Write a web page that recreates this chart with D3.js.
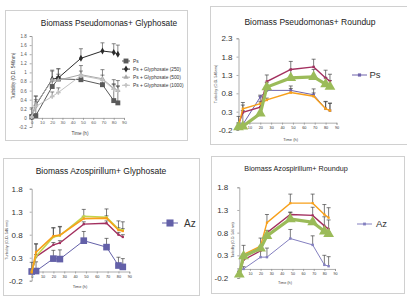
<!DOCTYPE html>
<html>
<head>
<meta charset="utf-8">
<script src="https://cdn.jsdelivr.net/npm/d3@7"></script>
<style>
  html, body { margin: 0; padding: 0; background: #fff; }
  svg { display: block; font-family: "Liberation Sans", Arial, sans-serif; }
</style>
</head>
<body>
<svg id="chart" width="407" height="297"></svg>
<script>
// Messzeitpunkte (h), für alle vier Diagramme gleich
const timeH = [0, 4, 20, 26, 48, 69, 80, 84];
const xTicks = [0, 10, 20, 30, 40, 50, 60, 70, 80, 90];

// Oben links: Pseudomonas + Glyphosat
const p1Ps      = [0.02, 0.05, 0.69, 0.86, 0.84, 0.73, 0.38, 0.33];
const p1G250    = [0.02, 0.28, 0.85, 0.88, 1.31, 1.47, 1.44, 1.40];
const p1G500    = [0.02, 0.30, 0.83, 0.83, 0.95, 0.86, 0.65, 0.60];
const p1G1000   = [0.02, 0.25, 0.47, 0.56, 0.93, 0.84, 0.63, 0.60];
const p1PsErr    = [0.20, 0.43, 0.12, 0.10, 0.08, 0.10, 0.46, 0.49];
const p1G250Err  = [0.05, 0.20, 0.20, 0.20, 0.21, 0.18, 0.19, 0.20];
const p1G500Err  = [0.05, 0.10, 0.20, 0.25, 0.20, 0.20, 0.10, 0.10];
const p1G1000Err = [0.05, 0.10, 0.10, 0.10, 0.10, 0.10, 0.10, 0.10];
const p1Names = ["Ps", "Ps + Glyphosate (250)", "Ps + Glyphosate (500)", "Ps + Glyphosate (1000)"];
const p1YTicks = [-0.2, 0, 0.2, 0.4, 0.6, 0.8, 1, 1.2, 1.4, 1.6, 1.8];

// Oben rechts: Pseudomonas + Roundup
const p2Ps      = [-0.08, -0.05, 0.70, 0.88, 0.88, 0.76, 0.38, 0.33];
const p2Red     = [-0.05, 0.28, 0.42, 1.12, 1.45, 1.52, 1.22, 1.13];
const p2Orange  = [-0.08, 0.38, 0.52, 0.62, 0.82, 0.72, 0.38, 0.33];
const p2Green   = [-0.12, -0.10, 0.25, 0.97, 1.22, 1.25, 1.05, 0.98];
const p2PsErr     = [0.25, 0.60, 0.05, 0.05, 0.05, 0.05, 0.20, 0.20];
const p2RedErr    = [0.05, 0.05, 0.30, 0.18, 0.22, 0.21, 0.21, 0.19];
const p2OrangeErr = [0.05, 0.10, 0.05, 0.05, 0.18, 0.20, 0.19, 0.20];
const p2GreenErr  = [0.05, 0.05, 0.05, 0.13, 0.23, 0.20, 0.17, 0.17];
const p2YTicks = [-0.2, 0.3, 0.8, 1.3, 1.8, 2.3];

// Unten links: Azospirillum + Glyphosat
const p3Az      = [0.00, 0.01, 0.28, 0.27, 0.67, 0.53, 0.13, 0.10];
const p3Red     = [0.00, 0.32, 0.58, 0.62, 1.03, 1.05, 0.80, 0.75];
const p3Lime    = [0.00, 0.33, 0.75, 0.78, 1.20, 1.18, 0.92, 0.90];
const p3Orange  = [-0.02, 0.42, 0.77, 0.79, 1.15, 1.16, 0.90, 0.88];
const p3AzErr     = [0.20, 0.20, 0.18, 0.20, 0.20, 0.19, 0.18, 0.18];
const p3RedErr    = [0.05, 0.05, 0.05, 0.05, 0.05, 0.05, 0.05, 0.05];
const p3LimeErr   = [0.05, 0.27, 0.20, 0.20, 0.15, 0.18, 0.18, 0.18];
const p3OrangeErr = [0.05, 0.18, 0.18, 0.18, 0.05, 0.05, 0.05, 0.05];

// Unten rechts: Azospirillum + Roundup
const p4Az      = [-0.05, 0.00, 0.26, 0.26, 0.67, 0.53, 0.09, 0.06];
const p4Red     = [-0.10, 0.20, 0.40, 0.80, 1.20, 1.18, 0.95, 0.88];
const p4Orange  = [-0.10, 0.32, 0.50, 1.02, 1.45, 1.45, 1.20, 1.13];
const p4Green   = [-0.12, 0.28, 0.45, 0.73, 1.10, 1.03, 0.83, 0.77];
const p4AzErr     = [0.05, 0.05, 0.20, 0.20, 0.20, 0.20, 0.21, 0.21];
const p4RedErr    = [0.05, 0.10, 0.05, 0.05, 0.05, 0.18, 0.20, 0.20];
const p4OrangeErr = [0.05, 0.20, 0.18, 0.18, 0.20, 0.20, 0.22, 0.22];
const p4GreenErr  = [0.05, 0.05, 0.05, 0.05, 0.15, 0.05, 0.05, 0.05];
const p34YTicks = [-0.2, 0.3, 0.8, 1.3, 1.8];

const svg = d3.select("#chart");
const purple = "#6f63ab", crimson = "#a3305f", orange = "#f7a01b", green = "#9bbb59";

function drawPanel(cfg) {
  const g = svg.append("g");

  g.append("rect")
    .attr("x", cfg.box[0] + 0.5).attr("y", cfg.box[1] + 0.5)
    .attr("width", cfg.box[2]).attr("height", cfg.box[3])
    .attr("fill", "#fff").attr("stroke", "#d0d0d0");

  g.append("text")
    .attr("x", cfg.title[0]).attr("y", cfg.title[1])
    .attr("text-anchor", "middle")
    .attr("font-size", cfg.title[2] + "px")
    .attr("fill", "#222")
    .text(cfg.title[3]);

  const x = d3.scaleLinear().domain([0, 90]).range(cfg.xr);
  const y = d3.scaleLinear().domain([cfg.yTicks[0], cfg.yTicks[cfg.yTicks.length - 1]]).range(cfg.yr);

  // y-Achse
  const ya = g.append("g")
    .attr("transform", `translate(${x(0)},0)`)
    .call(d3.axisLeft(y).tickValues(cfg.yTicks).tickSize(2).tickPadding(cfg.yPad)
      .tickFormat(d => String(d)));
  ya.selectAll("text").attr("font-size", cfg.yFont + "px").attr("fill", cfg.tickColor);

  // x-Achse bei y = 0
  const xa = g.append("g")
    .attr("transform", `translate(0,${y(0)})`)
    .call(d3.axisBottom(x).tickValues(xTicks).tickSize(2).tickPadding(cfg.xPad));
  xa.selectAll("text").attr("font-size", cfg.xFont + "px").attr("fill", cfg.tickColor);

  g.selectAll(".domain, .tick line").attr("stroke", "#8a8a8a").attr("stroke-width", 0.7);

  // Achsentitel
  g.append("text")
    .attr("x", cfg.xTitle[0]).attr("y", cfg.xTitle[1])
    .attr("text-anchor", "middle")
    .attr("font-size", cfg.xTitle[2] + "px")
    .attr("fill", "#444")
    .text("Time (h)");
  g.append("text")
    .attr("transform", `translate(${cfg.yTitle[0]},${cfg.yTitle[1]}) rotate(-90)`)
    .attr("text-anchor", "middle")
    .attr("font-size", cfg.yTitle[2] + "px")
    .attr("fill", "#444")
    .text(cfg.yTitle[3]);

  const line = d3.line().x((d, i) => x(timeH[i])).y(d => y(d));

  // Fehlerbalken (nur nach oben)
  cfg.series.forEach(s => {
    const eg = g.append("g").attr("stroke", cfg.errColor).attr("stroke-width", 0.7);
    s.values.forEach((v, i) => {
      const px = x(timeH[i]), y0 = y(v), y1 = y(v + s.err[i]);
      eg.append("line").attr("x1", px).attr("x2", px).attr("y1", y0).attr("y2", y1);
      eg.append("line").attr("x1", px - 2).attr("x2", px + 2).attr("y1", y1).attr("y2", y1);
    });
  });

  // Linien und Marker
  cfg.series.forEach(s => {
    g.append("path")
      .datum(s.values)
      .attr("d", line)
      .attr("fill", "none")
      .attr("stroke", s.color)
      .attr("stroke-width", s.width);
    g.selectAll(null)
      .data(s.values)
      .join("path")
      .attr("transform", (d, i) => `translate(${x(timeH[i])},${y(d)})`)
      .attr("d", d3.symbol().type(s.symbol).size(s.size))
      .attr("fill", s.color);
  });

  // Legende
  cfg.legend.forEach((s, i) => {
    const ly = cfg.legendPos[1] + i * cfg.legendPos[4];
    g.append("line")
      .attr("x1", cfg.legendPos[0]).attr("x2", cfg.legendPos[0] + cfg.legendPos[2])
      .attr("y1", ly).attr("y2", ly)
      .attr("stroke", s.color).attr("stroke-width", s.width);
    g.append("path")
      .attr("transform", `translate(${cfg.legendPos[0] + cfg.legendPos[2] / 2},${ly})`)
      .attr("d", d3.symbol().type(s.symbol).size(s.legendSize || s.size))
      .attr("fill", s.color);
    g.append("text")
      .attr("x", cfg.legendPos[0] + cfg.legendPos[2] + cfg.legendPos[3])
      .attr("y", ly)
      .attr("dy", "0.35em")
      .attr("font-size", cfg.legendFont + "px")
      .attr("fill", "#333")
      .text(s.name);
  });
}

// Diagramm 1
const p1Series = [
  { name: p1Names[0], values: p1Ps,    err: p1PsErr,    color: "#5a5a5a", width: 1, symbol: d3.symbolSquare,   size: 24 },
  { name: p1Names[1], values: p1G250,  err: p1G250Err,  color: "#2b2b2b", width: 1, symbol: d3.symbolDiamond,  size: 14 },
  { name: p1Names[2], values: p1G500,  err: p1G500Err,  color: "#a8a8a8", width: 1, symbol: d3.symbolTriangle, size: 12 },
  { name: p1Names[3], values: p1G1000, err: p1G1000Err, color: "#c2c2c2", width: 1, symbol: d3.symbolCross,    size: 12 }
];
drawPanel({
  box: [5, 10, 182, 130],
  title: [109, 26, 8.3, "Biomass Pseudomonas+ Glyphosate"],
  xr: [31.7, 124], yr: [127, 36],
  yTicks: p1YTicks, yPad: 3, yFont: 4.5, xPad: 1.5, xFont: 4.3, tickColor: "#555",
  xTitle: [80, 135, 4.6], yTitle: [15, 76, 4.6, "Turbidity (O.D. 546nm)"],
  errColor: "#555",
  series: p1Series, legend: p1Series,
  legendPos: [122, 61, 8, 3, 8.1], legendFont: 4.8
});

// Diagramm 2
const p2Series = [
  { name: "Ps", values: p2Ps,     err: p2PsErr,     color: purple,  width: 1,   symbol: d3.symbolSquare,   size: 7 },
  { name: "",   values: p2Red,    err: p2RedErr,    color: crimson, width: 1.4, symbol: d3.symbolSquare,   size: 6 },
  { name: "",   values: p2Orange, err: p2OrangeErr, color: orange,  width: 1.4, symbol: d3.symbolSquare,   size: 6 },
  { name: "",   values: p2Green,  err: p2GreenErr,  color: green,   width: 3.2, symbol: d3.symbolTriangle, size: 50 }
];
drawPanel({
  box: [210, 6, 200, 138],
  title: [310, 25, 8.5, "Biomass Pseudomonas+ Roundup"],
  xr: [238.5, 336.5], yr: [130, 38.3],
  yTicks: p2YTicks, yPad: 4, yFont: 8, xPad: 2, xFont: 3.8, tickColor: "#333",
  xTitle: [290.7, 140.5, 4], yTitle: [216.5, 84, 3.8, "Turbidity (O.D. 546nm)"],
  errColor: "#444",
  series: p2Series, legend: [{ ...p2Series[0], legendSize: 10 }],
  legendPos: [352, 75, 15, 2.5, 0], legendFont: 9.5
});

// Diagramm 3
const p3Series = [
  { name: "Az", values: p3Az,     err: p3AzErr,     color: "#6360a8", width: 1,   symbol: d3.symbolSquare, size: 44 },
  { name: "",   values: p3Red,    err: p3RedErr,    color: crimson,   width: 1.4, symbol: d3.symbolSquare, size: 5 },
  { name: "",   values: p3Lime,   err: p3LimeErr,   color: "#c2d64c", width: 1.6, symbol: d3.symbolSquare, size: 5 },
  { name: "",   values: p3Orange, err: p3OrangeErr, color: orange,    width: 1.6, symbol: d3.symbolSquare, size: 5 }
];
drawPanel({
  box: [3, 158, 196, 137],
  title: [101, 174, 8.5, "Biomass Azospirillum+ Glyphosate"],
  xr: [31.7, 129.3], yr: [280.7, 188.7],
  yTicks: p34YTicks, yPad: 7, yFont: 8, xPad: 2, xFont: 3.8, tickColor: "#333",
  xTitle: [80, 287.5, 4], yTitle: [8, 240, 3.8, "Turbidity (O.D. 546 nm)"],
  errColor: "#444",
  series: p3Series, legend: [{ ...p3Series[0], legendSize: 50 }],
  legendPos: [162, 223, 16, 6, 0], legendFont: 10
});

// Diagramm 4
const p4Series = [
  { name: "Az", values: p4Az,     err: p4AzErr,     color: "#8480c0", width: 1,   symbol: d3.symbolSquare,   size: 6 },
  { name: "",   values: p4Red,    err: p4RedErr,    color: crimson,   width: 1.4, symbol: d3.symbolSquare,   size: 5 },
  { name: "",   values: p4Orange, err: p4OrangeErr, color: orange,    width: 1.4, symbol: d3.symbolSquare,   size: 5 },
  { name: "",   values: p4Green,  err: p4GreenErr,  color: green,     width: 3.2, symbol: d3.symbolTriangle, size: 50 }
];
drawPanel({
  box: [211, 156, 193, 137],
  title: [296, 171, 7.2, "Biomass Azospirillum+ Roundup"],
  xr: [239.3, 335], yr: [278, 187.3],
  yTicks: p34YTicks, yPad: 9, yFont: 8, xPad: 2, xFont: 3.6, tickColor: "#333",
  xTitle: [285, 284, 3.8], yTitle: [233.5, 240, 3.4, "Turbidity (O.D. 546 nm)"],
  errColor: "#444",
  series: p4Series, legend: [{ ...p4Series[0], legendSize: 8 }],
  legendPos: [357, 224, 15, 4, 0], legendFont: 9.5
});
</script>
</body>
</html>
